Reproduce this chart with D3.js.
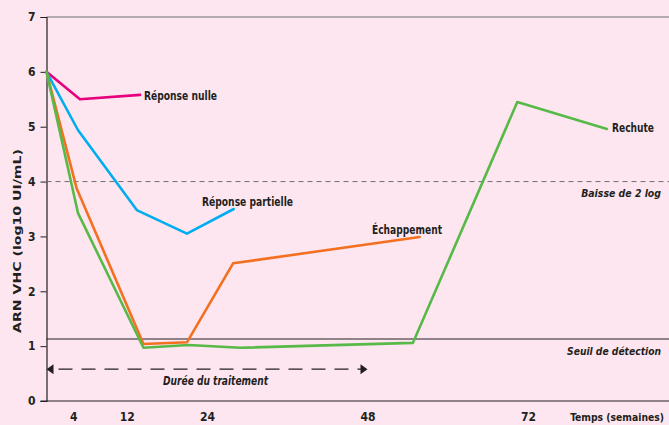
<!DOCTYPE html>
<html><head><meta charset="utf-8">
<script src="https://cdn.jsdelivr.net/npm/d3@7"></script>
<style>
html,body{margin:0;padding:0;background:#fde6f0;}
svg{display:block;}
text{font-family:"Liberation Sans Narrow","DejaVu Sans Condensed","Arial Narrow",sans-serif;font-weight:bold;fill:#231f20;}
</style></head><body>
<svg id="chart" width="669" height="425"></svg>
<script>
// ---- data ----
const yTicks = [0,1,2,3,4,5,6,7];
const xTicks = [4,12,24,48,72];
const xTickLabels = ["4","12","24","48","72"];
const nulleWeeks = [0,5,14];
const nulleValues = [6,5.5,5.58];
const partielleWeeks = [0,4.7,13.5,21,28];
const partielleValues = [6,4.94,3.48,3.05,3.5];
const echapWeeks = [0,4.5,14.5,21,27.9,55.8];
const echapValues = [6,3.88,1.04,1.07,2.51,2.99];
const rechuteWeeks = [0,4.7,14.5,21.2,29,54.8,70.4,83.8];
const rechuteValues = [6,3.43,0.97,1.02,0.97,1.06,5.45,4.96];
const seriesNames = ["Réponse nulle","Réponse partielle","Échappement","Rechute"];
const baisseLevel = 4;
const seuilLevel = 1.13;
const treatmentWeeks = [0,48];
const treatmentLevel = 0.58;

const svg = d3.select("#chart");
const W = 669, H = 425;
const x = d3.scaleLinear().domain([0,93]).range([46.5, 46.5+93*6.6875]);
const y = d3.scaleLinear().domain([0,7]).range([401,17]);

svg.append("rect").attr("width",W).attr("height",H).attr("fill","#fde6f0");

function label(px, py, str, len, opts={}) {
  const t = svg.append("text").attr("x",px).attr("y",py)
    .attr("font-size",opts.size||12.5)
    .attr("text-anchor",opts.anchor||"start")
    .text(str);
  if (opts.italic) t.attr("font-style","italic");
  if (len && opts.fit) {
    const nat = t.node().getComputedTextLength();
    if (nat > len) t.attr("font-size",(opts.size||12.5)*len/nat);
  } else if (len) {
    t.attr("textLength",len).attr("lengthAdjust","spacingAndGlyphs");
  }
  return t;
}

// top line at 7
svg.append("line").attr("x1",x(0)).attr("x2",W).attr("y1",y(7)).attr("y2",y(7))
  .attr("stroke","#6d6e71").attr("stroke-width",1);
// x axis baseline
svg.append("line").attr("x1",x(0)-6).attr("x2",W).attr("y1",y(0)).attr("y2",y(0))
  .attr("stroke","#231f20").attr("stroke-width",1.2);

// y axis
const yAxis = d3.axisLeft(y).tickValues(yTicks).tickSize(6).tickPadding(5).tickFormat(d3.format("d"));
const gy = svg.append("g").attr("transform",`translate(${x(0)},0)`).call(yAxis);
gy.select(".domain").attr("stroke","#231f20").attr("stroke-width",1.2);
gy.selectAll(".tick line").attr("stroke","#231f20");
gy.selectAll(".tick text").attr("font-size",12).attr("font-family",null).attr("font-weight",null).attr("fill","#231f20");

// x tick labels
const xAxis = d3.axisBottom(x).tickValues(xTicks).tickSize(0).tickPadding(11).tickFormat((d,i)=>xTickLabels[i]);
const gx = svg.append("g").attr("transform",`translate(0,${y(0)})`).call(xAxis);
gx.select(".domain").remove();
gx.selectAll(".tick text").attr("font-size",12).attr("font-family",null).attr("font-weight",null).attr("fill","#231f20");

label(664, 421, "Temps (semaines)", 94, {size:12, anchor:"end", fit:true});

// y axis title
svg.append("text").attr("transform",`translate(21,241) rotate(-90)`)
  .attr("text-anchor","middle").attr("font-size",11)
  .attr("textLength",184).attr("lengthAdjust","spacingAndGlyphs")
  .text("ARN VHC (log10 UI/mL)");

// reference lines
svg.append("line").attr("x1",x(0)).attr("x2",W).attr("y1",y(baisseLevel)).attr("y2",y(baisseLevel))
  .attr("stroke","#6d6e71").attr("stroke-width",1).attr("stroke-dasharray","5,4");
label(661, 197, "Baisse de 2 log", 80, {italic:true, anchor:"end", fit:true});
svg.append("line").attr("x1",x(0)).attr("x2",W).attr("y1",y(seuilLevel)).attr("y2",y(seuilLevel))
  .attr("stroke","#231f20").attr("stroke-width",1);
label(661, 355, "Seuil de détection", 94, {italic:true, anchor:"end", fit:true});

// treatment arrow
const ty = y(treatmentLevel);
svg.append("line").attr("x1",x(treatmentWeeks[0])+6).attr("x2",x(treatmentWeeks[1])-6)
  .attr("y1",ty).attr("y2",ty).attr("stroke","#231f20").attr("stroke-width",1.2)
  .attr("stroke-dasharray","14,9").attr("stroke-dashoffset",-6);
svg.append("path").attr("d",`M${x(treatmentWeeks[0])},${ty} l7,-5 l0,10 z`).attr("fill","#231f20");
svg.append("path").attr("d",`M${x(treatmentWeeks[1])},${ty} l-7,-5 l0,10 z`).attr("fill","#231f20");
label(163, 385, "Durée du traitement", 105, {italic:true});

// series
const line = d3.line().x(d=>x(d[0])).y(d=>y(d[1])).curve(d3.curveLinear);
const series = [
  {w:nulleWeeks, v:nulleValues, c:"#e6007e"},
  {w:partielleWeeks, v:partielleValues, c:"#00aeef"},
  {w:echapWeeks, v:echapValues, c:"#f37021"},
  {w:rechuteWeeks, v:rechuteValues, c:"#57b947"}
];
series.forEach(s=>{
  const pts = s.w.map((w,i)=>[w,s.v[i]]);
  svg.append("path").datum(pts).attr("d",line).attr("fill","none")
    .attr("stroke",s.c).attr("stroke-width",2.6).attr("stroke-linejoin","round").attr("stroke-linecap","round");
});

// series labels
const labelPos = [
  {px:144, py:100, len:73},
  {px:202, py:206, len:91},
  {px:372, py:234, len:70},
  {px:612, py:132, len:42}
];
labelPos.forEach((p,i)=>label(p.px, p.py, seriesNames[i], p.len));
</script>
</body></html>
